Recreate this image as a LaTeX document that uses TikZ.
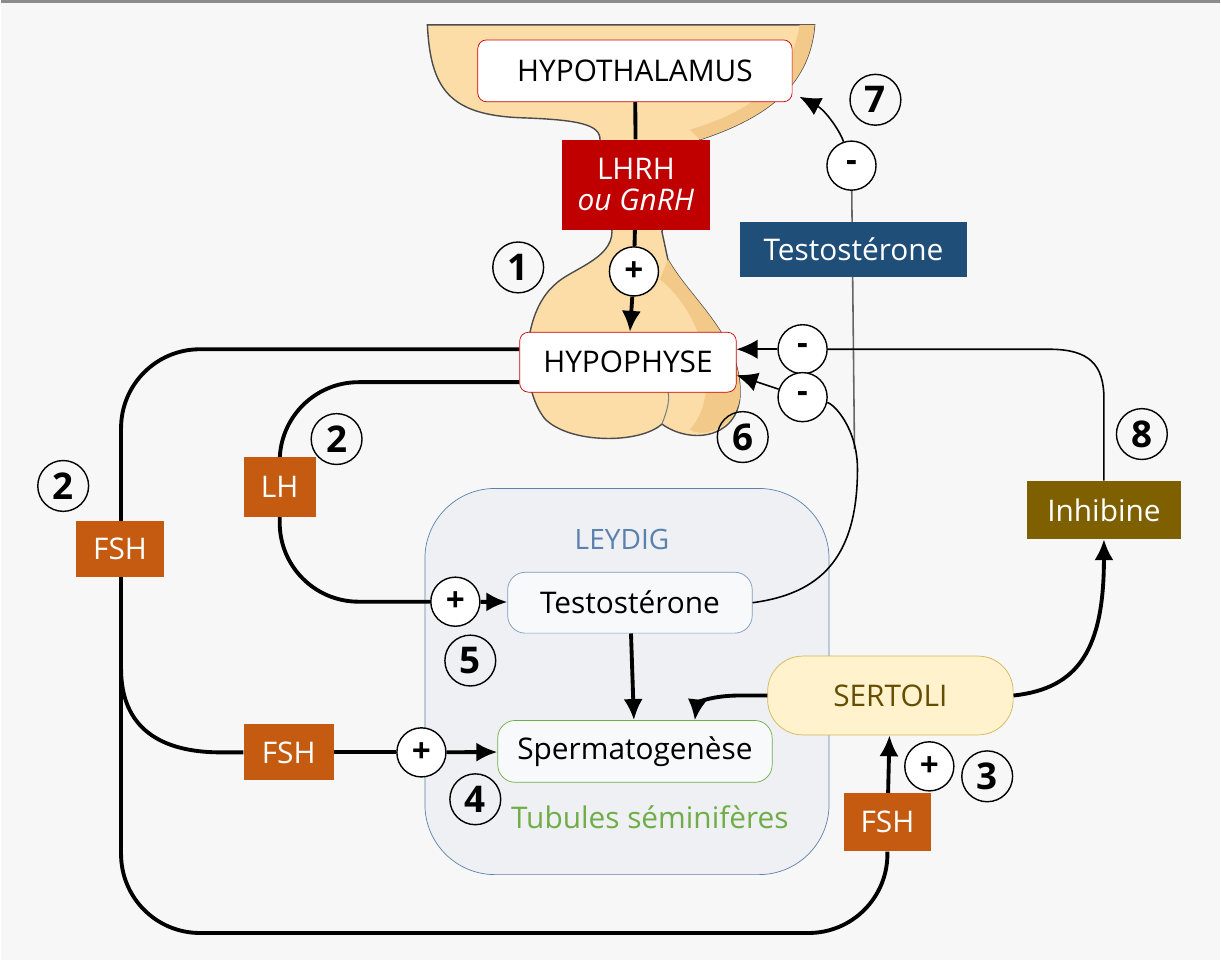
\documentclass[tikz,border=0pt]{standalone}
\usepackage{fontspec}
\setmainfont{Open Sans}
\usetikzlibrary{arrows.meta}

\definecolor{beige}{HTML}{FCDDA8}
\definecolor{beigedark}{HTML}{F3C98A}
\definecolor{redbox}{HTML}{C00000}
\definecolor{bluebox}{HTML}{1F4E79}
\definecolor{orangebox}{HTML}{C55A11}
\definecolor{olivebox}{HTML}{7F6000}
\definecolor{leydigfill}{HTML}{EEF0F3}
\definecolor{leydigline}{HTML}{5B82AE}
\definecolor{greenline}{HTML}{70AD47}
\definecolor{sertfill}{HTML}{FFF2CC}
\definecolor{sertline}{HTML}{D6B656}

\pgfdeclarelayer{back}
\pgfsetlayers{back,main}

\tikzset{
  hormone/.style={fill=#1, text=white, inner sep=0pt, font=\fontsize{17}{20}\selectfont},
  organ/.style={draw=red!80!black, fill=white, rounded corners=5pt, inner sep=0pt, font=\fontsize{17}{20}\selectfont},
  sign/.style={draw, thick, circle, fill=white, minimum size=28pt, inner sep=0pt, font=\bfseries\fontsize{19}{20}\selectfont},
  stepno/.style={draw, thick, circle, minimum size=29pt, inner sep=0pt, font=\bfseries\fontsize{21}{22}\selectfont},
  strong/.style={line width=2.2pt, -{Latex[length=12pt,width=11pt]}},
  weak/.style={line width=0.9pt, -{Latex[length=12pt,width=11pt]}},
}

\begin{document}
\begin{tikzpicture}[x=0.02cm, y=-0.02cm]
  \begin{pgfonlayer}{back}
  \fill[black!3] (0,0) rectangle (1221,962);
  \draw[black!45, line width=1.5pt] (0,1.5) -- (1221,1.5);
  % gland
  \filldraw[fill=beige, draw=black!70, line width=0.8pt]
    (427,25) .. controls (430,90) and (450,115) .. (520,118)
    .. controls (580,120) and (600,125) .. (600,140) -- (612,232)
    .. controls (612,260) and (570,270) .. (555,285)
    .. controls (520,315) and (520,390) .. (545,420)
    .. controls (570,445) and (640,445) .. (662,425)
    .. controls (690,445) and (735,440) .. (740,400)
    .. controls (745,340) and (690,300) .. (668,260)
    -- (662,232) -- (700,140)
    .. controls (760,120) and (810,90) .. (815,25) -- cycle;
  \fill[beigedark] (700,140) .. controls (760,120) and (810,90) .. (815,25) -- (800,25) .. controls (790,90) and (740,115) .. (690,130) -- cycle;
  \fill[beigedark] (668,260) .. controls (690,300) and (745,340) .. (740,400) .. controls (735,430) and (700,440) .. (690,430) .. controls (720,400) and (710,320) .. (660,280) -- cycle;
  \draw[black!50, line width=0.6pt] (662,425) .. controls (668,410) and (670,400) .. (668,392);
  \end{pgfonlayer}
  \useasboundingbox (0,0) rectangle (1221,962);

  % organs
  \node[organ, minimum width=315*0.02cm, minimum height=62*0.02cm] (hypot) at (635,71) {HYPOTHALAMUS};
  \node[hormone=redbox, minimum width=148*0.02cm, minimum height=90*0.02cm, align=center] (lhrh) at (636,185) {LHRH\\[-2pt]\textit{ou GnRH}};
  \node[organ, minimum width=217*0.02cm, minimum height=60*0.02cm] (hypop) at (628,363) {HYPOPHYSE};
  \node[hormone=bluebox, minimum width=228*0.02cm, minimum height=56*0.02cm] (testob) at (854,250) {Testostérone};

  \begin{pgfonlayer}{back}
  \node[draw=leydigline, fill=leydigfill, rounded corners=40pt, minimum width=405*0.02cm, minimum height=387*0.02cm] (leydig) at (627,683) {};
  \end{pgfonlayer}
  \node[text=leydigline, font=\fontsize{16}{20}\selectfont] (leydiglab) at (622,541) {LEYDIG};
  \node[draw=leydigline!80, fill=white!60!leydigfill, rounded corners=10pt, minimum width=245*0.02cm, minimum height=61*0.02cm, font=\fontsize{17}{20}\selectfont] (testoi) at (630,604) {Testostérone};
  \node[draw=greenline, fill=white!60!leydigfill, rounded corners=10pt, minimum width=275*0.02cm, minimum height=62*0.02cm, font=\fontsize{17}{20}\selectfont] (sperm) at (635,753) {Spermatogenèse};
  \node[text=greenline, font=\fontsize{17}{20}\selectfont] (tubules) at (650,819) {Tubules séminifères};
  \node[draw=sertline, fill=sertfill, rounded corners=20pt, minimum width=246*0.02cm, minimum height=79*0.02cm, text=olivebox!80!black, font=\fontsize{17}{20}\selectfont] (sertoli) at (891,697) {SERTOLI};

  \node[hormone=orangebox, minimum width=72*0.02cm, minimum height=60*0.02cm] (lh) at (279,488) {LH};
  \node[hormone=orangebox, minimum width=88*0.02cm, minimum height=56*0.02cm] (fshl) at (119,550) {FSH};
  \node[hormone=orangebox, minimum width=90*0.02cm, minimum height=56*0.02cm] (fshm) at (288,754) {FSH};
  \node[hormone=orangebox, minimum width=87*0.02cm, minimum height=58*0.02cm] (fshr) at (888,824) {FSH};
  \node[hormone=olivebox, minimum width=155*0.02cm, minimum height=58*0.02cm] (inhib) at (1105,511) {Inhibine};

  % signs and steps
  \node[sign] (p1) at (634,272) {+};
  \node[sign] (p5) at (455,603) {+};
  \node[sign] (p4) at (421,754) {+};
  \node[sign] (p3) at (930,768) {+};
  \node[sign] (m7) at (852,166) {-};
  \node[sign] (m8) at (803,350) {-};
  \node[sign] (m6) at (803,398) {-};
  \node[stepno] (s1) at (518,268) {1};
  \node[stepno] (s2a) at (336,440) {2};
  \node[stepno] (s2b) at (62,487) {2};
  \node[stepno] (s3) at (988,778) {3};
  \node[stepno] (s4) at (475,801) {4};
  \node[stepno] (s5) at (470,662) {5};
  \node[stepno] (s6) at (743,438) {6};
  \node[stepno] (s7) at (876,100) {7};
  \node[stepno] (s8) at (1143,435) {8};
  \coordinate (tipup) at (800,97);
  \coordinate (tipsp) at (695,722);

  % connectors
  \begin{pgfonlayer}{back}
  \draw[line width=2.2pt] (hypot) -- (lhrh);
  \draw[line width=2.2pt] (lhrh) -- (p1);
  \draw[line width=2.2pt, rounded corners=45pt] (hypop.west |- 0,350) -- (120,350) -- (120,935) -- (888,935) -- (fshr.south);
  \draw[line width=2.2pt] (120,670) .. controls (120,730) and (160,754) .. (220,754) -- (fshm);
  \draw[line width=2.2pt] (fshm) -- (p4);
  \draw[line width=2.2pt, rounded corners=45pt] (hypop.west |- 0,383) -- (279,383) -- (279,603) -- (p5);
  \draw[line width=0.9pt, black!60] (855,450) -- (m7);
  \draw[line width=0.9pt] (inhib.north) -- (1105,400) .. controls (1105,365) and (1090,350) .. (1050,350) -- (m8);
  \end{pgfonlayer}
  \draw[strong] (p1) -- (hypop);
  \draw[strong] (fshr) -- (sertoli);
  \draw[strong] (p4) -- (sperm);
  \draw[strong] (p5) -- (testoi);
  \draw[strong] (testoi) -- (sperm);
  \draw[strong] (sertoli.west) -- (740,697) .. controls (710,697) and (697,705) .. (tipsp);
  \draw[strong] (sertoli.east) .. controls (1080,690) and (1105,650) .. (inhib.south);
  \draw[weak] (m8) -- (hypop.east |- 0,350);
  \draw[line width=0.9pt] (testoi.east) .. controls (820,595) and (858,560) .. (858,470) .. controls (858,430) and (835,405) .. (m6);
  \draw[weak] (m6) -- (hypop.east |- 0,376);
  \draw[weak] (m7) .. controls (840,130) and (825,110) .. (tipup);
\end{tikzpicture}
\end{document}
